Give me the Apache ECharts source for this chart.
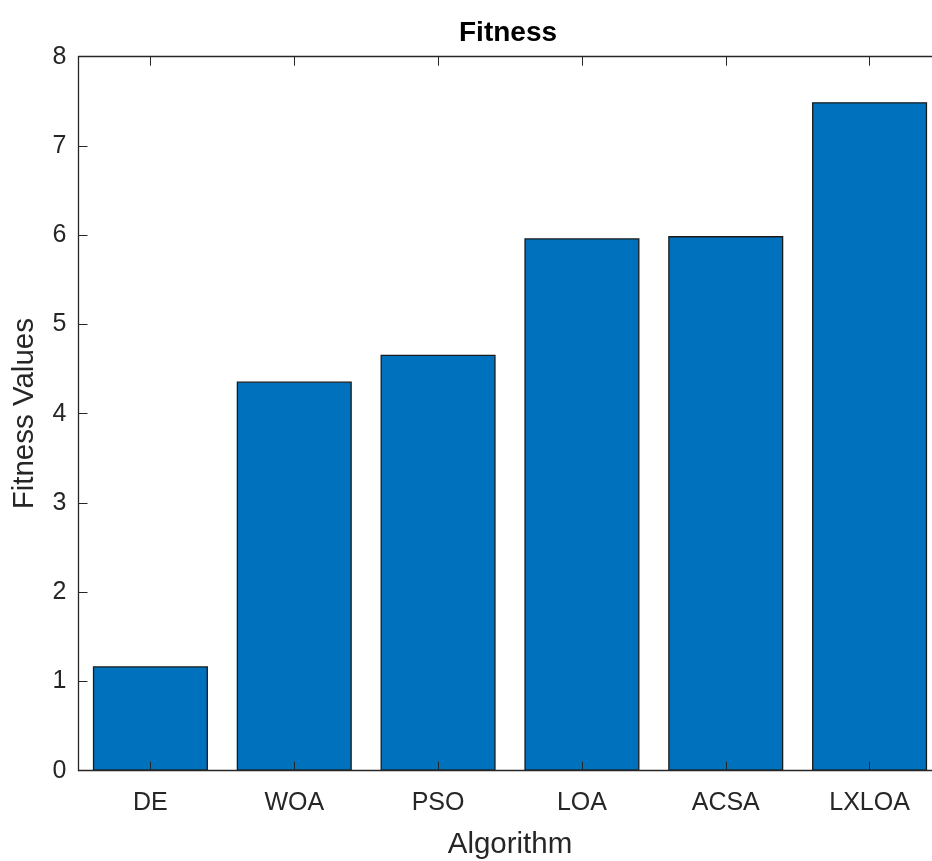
<!DOCTYPE html>
<html>
<head>
<meta charset="utf-8">
<script src="https://cdn.jsdelivr.net/npm/echarts@6/dist/echarts.min.js"></script>
<style>html,body{margin:0;padding:0;background:#fff;}#c{width:932px;height:861px;}</style>
</head>
<body>
<div id="c"></div>
<script>
const categories = ['DE', 'WOA', 'PSO', 'LOA', 'ACSA', 'LXLOA'];
const fitnessValues = [1.17, 4.36, 4.66, 5.965, 5.99, 7.49];
const yTicks = [0, 1, 2, 3, 4, 5, 6, 7, 8];

const FONT = '"Liberation Sans", Arial, Helvetica, sans-serif';
const TXT = '#262626';
const chart = echarts.init(document.getElementById('c'), null, {renderer: 'canvas'});
const axisLine = {show: true, onZero: false, lineStyle: {color: TXT, width: 1.3}};
chart.setOption({
  animation: false,
  backgroundColor: '#ffffff',
  title: {
    text: 'Fitness',
    left: 454, top: 14,
    textStyle: {fontFamily: FONT, fontWeight: 'bold', fontSize: 28, color: '#000'}
  },
  grid: {left: 78.5, top: 56.7, width: 863, height: 714, containLabel: false, outerBoundsMode: 'none'},
  xAxis: [{
    type: 'category', data: categories, position: 'bottom', boundaryGap: true, z: 5,
    axisLine: axisLine,
    axisTick: {show: true, inside: true, alignWithLabel: true, length: 9, lineStyle: {color: TXT}},
    axisLabel: {fontFamily: FONT, fontSize: 25, color: TXT, margin: 20},
    name: 'Algorithm', nameLocation: 'middle', nameGap: 59,
    nameTextStyle: {fontFamily: FONT, fontSize: 29.5, color: TXT},
    splitLine: {show: false}
  }, {
    type: 'category', data: categories, position: 'top', boundaryGap: true, z: 5,
    axisLine: axisLine,
    axisTick: {show: true, inside: true, alignWithLabel: true, length: 9, lineStyle: {color: TXT}},
    axisLabel: {show: false}, splitLine: {show: false}
  }],
  yAxis: [{
    type: 'value', min: 0, max: 8, interval: 1, position: 'left', z: 5,
    axisLine: axisLine,
    axisTick: {show: true, inside: true, length: 9, lineStyle: {color: TXT}},
    axisLabel: {fontFamily: FONT, fontSize: 25, color: TXT, margin: 12,
      formatter: v => yTicks.includes(v) ? String(v) : ''},
    splitLine: {show: false},
    name: 'Fitness Values', nameLocation: 'middle', nameGap: 39,
    nameTextStyle: {fontFamily: FONT, fontSize: 29.5, color: TXT}
  }, {
    type: 'value', min: 0, max: 8, interval: 1, position: 'right', z: 5,
    axisLine: axisLine,
    axisTick: {show: true, inside: true, length: 9, lineStyle: {color: TXT}},
    axisLabel: {show: false}, splitLine: {show: false}
  }],
  series: [{
    type: 'bar', data: fitnessValues, xAxisIndex: 0, yAxisIndex: 0,
    barWidth: '80%',
    itemStyle: {color: '#0072BD', borderColor: '#1a1a1a', borderWidth: 1.3}
  }]
});
</script>
</body>
</html>
